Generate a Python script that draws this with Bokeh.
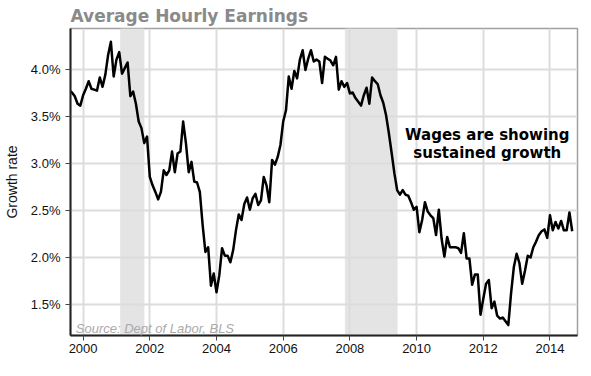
from bokeh.plotting import figure
from bokeh.models import (FixedTicker, PrintfTickFormatter, BoxAnnotation, Label,
                          Range1d, ColumnDataSource)
from bokeh.embed import file_html
from bokeh.resources import INLINE

# ---- data -------------------------------------------------------------
title_text = "Average Hourly Earnings"
y_label = "Growth rate"
source_note = "Source: Dept of Labor, BLS"
annotation_lines = ["Wages are showing", "sustained growth"]

start_year, start_month = 1999, 8          # first monthly observation (Aug 1999)
growth = [
    # 1999 Aug-Dec
    3.78, 3.76, 3.72, 3.64, 3.62,
    # 2000
    3.73, 3.80, 3.88, 3.80, 3.79, 3.78, 3.92, 3.82, 3.95, 4.16, 4.30, 3.93,
    # 2001
    4.11, 4.19, 3.96, 4.02, 4.08, 3.72, 3.77, 3.64, 3.45, 3.38, 3.22, 3.29,
    # 2002
    2.86, 2.77, 2.70, 2.62, 2.70, 2.93, 2.88, 2.93, 3.13, 2.91, 3.11, 3.13,
    # 2003
    3.45, 3.22, 2.91, 3.02, 2.81, 2.80, 2.70, 2.35, 2.06, 2.11, 1.70, 1.83,
    # 2004
    1.63, 1.81, 2.10, 2.02, 2.02, 1.95, 2.08, 2.29, 2.46, 2.40, 2.57, 2.64,
    # 2005
    2.51, 2.63, 2.68, 2.56, 2.61, 2.86, 2.77, 2.59, 3.04, 2.99, 3.07, 3.20,
    # 2006
    3.45, 3.57, 3.93, 3.80, 3.99, 3.91, 4.11, 4.21, 4.00, 4.12, 4.21, 4.09,
    # 2007
    4.11, 4.09, 3.86, 4.14, 4.12, 4.10, 4.05, 4.14, 3.79, 3.88, 3.82, 3.86,
    # 2008
    3.75, 3.76, 3.70, 3.66, 3.62, 3.73, 3.81, 3.64, 3.92, 3.88, 3.85, 3.73,
    # 2009
    3.65, 3.52, 3.33, 3.12, 2.90, 2.72, 2.67, 2.72, 2.67, 2.66, 2.59, 2.51,
    # 2010
    2.54, 2.27, 2.40, 2.59, 2.49, 2.45, 2.42, 2.24, 2.51, 2.20, 2.01, 2.22,
    # 2011
    2.11, 2.11, 2.11, 2.10, 2.05, 2.26, 1.99, 1.99, 1.71, 1.82, 1.82, 1.39,
    # 2012
    1.56, 1.72, 1.76, 1.46, 1.53, 1.38, 1.35, 1.36, 1.32, 1.28, 1.62, 1.90,
    # 2013
    2.04, 1.94, 1.72, 1.86, 2.02, 2.00, 2.11, 2.17, 2.24, 2.28, 2.30, 2.21,
    # 2014 Jan-Sep
    2.45, 2.29, 2.38, 2.31, 2.39, 2.29, 2.29, 2.48, 2.28,
]

recession_starts = [2001.12, 2007.86]
recession_ends = [2001.83, 2009.42]

x_ticks = [2000, 2002, 2004, 2006, 2008, 2010, 2012, 2014]
y_ticks = [1.5, 2.0, 2.5, 3.0, 3.5, 4.0]

# decimal-year dates for each monthly observation
dates = []
yy, mm = start_year, start_month
for _ in growth:
    dates.append(yy + (mm - 1) / 12.0)
    mm += 1
    if mm > 12:
        mm = 1
        yy += 1

src = ColumnDataSource(dict(x=dates, y=growth))

# ---- figure -----------------------------------------------------------
p = figure(width=583, height=362, output_backend="svg", toolbar_location=None,
           x_range=Range1d(1999.622, 2014.825), y_range=Range1d(1.169, 4.442),
           min_border_left=63, min_border_right=6, min_border_top=28,
           min_border_bottom=27, background_fill_color="white",
           border_fill_color="white")

p.title.text = title_text
p.title.text_font = "DejaVu Sans"
p.title.text_font_style = "bold"
p.title.text_font_size = "17px"
p.title.text_color = "#8a8a8a"
p.title.align = "left"
p.title.offset = 0
p.title.standoff = 6

p.outline_line_color = "#a0a0a0"
p.outline_line_width = 1.5

# recession shading (under the grid)
for a, b in zip(recession_starts, recession_ends):
    p.add_layout(BoxAnnotation(left=a, right=b, fill_color="#e4e4e4", fill_alpha=1.0,
                               line_color="#d4d4d4", line_width=1, level="image"))

p.xgrid.ticker = FixedTicker(ticks=x_ticks)
p.ygrid.ticker = FixedTicker(ticks=y_ticks)
for g in (p.xgrid[0], p.ygrid[0]):
    g.grid_line_color = "#dcdcdc"
    g.grid_line_width = 2

p.xaxis.ticker = FixedTicker(ticks=x_ticks)
p.yaxis.ticker = FixedTicker(ticks=y_ticks)
p.xaxis.formatter = PrintfTickFormatter(format="%d")
p.yaxis.formatter = PrintfTickFormatter(format="%.1f%%")

for ax in (p.xaxis[0], p.yaxis[0]):
    ax.axis_line_color = "#222222"
    ax.axis_line_width = 2
    ax.major_tick_line_color = "#444444"
    ax.major_tick_out = 5
    ax.major_tick_in = 0
    ax.minor_tick_line_color = None
    ax.major_label_text_font = "Liberation Sans"
    ax.major_label_text_font_size = "13px"
    ax.major_label_text_color = "#111111"

p.xaxis.major_label_standoff = 3
p.yaxis.major_label_standoff = 5
p.yaxis.axis_label = y_label
p.yaxis.axis_label_text_font = "Liberation Sans"
p.yaxis.axis_label_text_font_size = "14px"
p.yaxis.axis_label_text_font_style = "normal"
p.yaxis.axis_label_text_color = "#111111"
p.yaxis.axis_label_standoff = 8

p.line("x", "y", source=src, line_color="black", line_width=2.5, line_join="round")

# annotation text
p.add_layout(Label(x=2012.12, y=3.302, text=annotation_lines[0], text_align="center",
                   text_baseline="alphabetic", text_font="DejaVu Sans",
                   text_font_style="bold", text_font_size="15px", text_color="black"))
p.add_layout(Label(x=2012.12, y=3.113, text=annotation_lines[1], text_align="center",
                   text_baseline="alphabetic", text_font="DejaVu Sans",
                   text_font_style="bold", text_font_size="15px", text_color="black"))

p.add_layout(Label(x=1999.78, y=1.241, text=source_note, text_align="left",
                   text_baseline="alphabetic", text_font="Liberation Sans",
                   text_font_style="italic", text_font_size="13px",
                   text_color="#aaaaaa"))

open("out.html", "w").write(file_html(p, INLINE))
